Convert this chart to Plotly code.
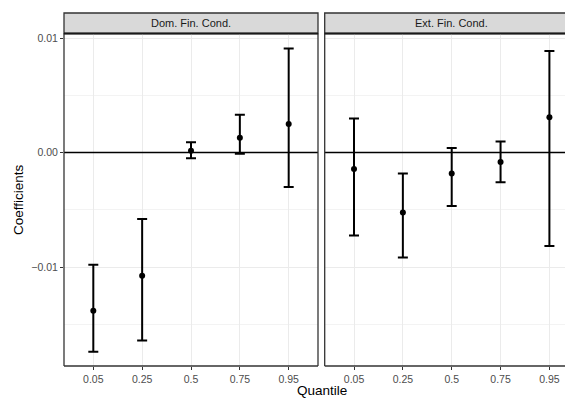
import plotly.graph_objects as go

quantiles = ["0.05", "0.25", "0.5", "0.75", "0.95"]
panels = ["Dom. Fin. Cond.", "Ext. Fin. Cond."]

dom_coef = [-0.0138, -0.01075, 0.00017, 0.0013, 0.0025]
dom_upper = [-0.0098, -0.0058, 0.0009, 0.0033, 0.0091]
dom_lower = [-0.01738, -0.0164, -0.0005, -0.0001, -0.0030]

ext_coef = [-0.00142, -0.00523, -0.00183, -0.00081, 0.00309]
ext_upper = [0.00297, -0.00183, 0.0004, 0.00096, 0.00887]
ext_lower = [-0.00724, -0.00915, -0.00467, -0.00258, -0.00816]

y_ticks = [-0.01, 0.0, 0.01]
y_tick_labels = ["\u22120.01", "0.00", "0.01"]
y_minor = [-0.015, -0.005, 0.005]

W, H = 565, 398
ml, mr, mt, mb = 64, 0, 13, 32
pw = W - ml - mr
ph = H - mt - mb
panel_top = 1 - (33.5 - mt) / ph
left_dom = [0, (318 - ml) / pw]
right_dom = [(324.7 - ml) / pw, 1]

xpos = list(range(1, len(quantiles) + 1))

fig = go.Figure()
series = [(dom_coef, dom_upper, dom_lower, "x", "y"),
          (ext_coef, ext_upper, ext_lower, "x2", "y2")]
for coef, up, lo, xa, ya in series:
    fig.add_trace(go.Scatter(
        x=xpos, y=coef, mode="markers", xaxis=xa, yaxis=ya,
        marker=dict(color="black", size=6),
        error_y=dict(type="data", symmetric=False,
                     array=[u - c for u, c in zip(up, coef)],
                     arrayminus=[c - l for c, l in zip(coef, lo)],
                     color="black", thickness=2, width=5),
        showlegend=False))

tick_font = dict(family="Liberation Sans, Arial", size=10.5, color="#4d4d4d")
yr = [-0.01863, 0.0104]
common_y = dict(range=yr, tickvals=y_ticks, ticktext=y_tick_labels,
                showgrid=True, gridcolor="#ebebeb", gridwidth=1.2,
                zeroline=False, showline=False,
                minor=dict(tickvals=y_minor, showgrid=True, gridcolor="#f3f3f3", gridwidth=0.7),
                domain=[0, panel_top], fixedrange=True)
common_x = dict(tickvals=xpos, ticktext=quantiles, showgrid=True, gridcolor="#ebebeb",
                gridwidth=1.3, zeroline=False, showline=False,
                ticks="outside", ticklen=3, tickcolor="#333333", tickwidth=1,
                tickfont=tick_font)

fig.update_layout(
    width=W, height=H, margin=dict(l=ml, r=mr, t=mt, b=mb),
    paper_bgcolor="white", plot_bgcolor="white",
    xaxis=dict(common_x, domain=left_dom, range=[0.4, 5.6], anchor="y"),
    xaxis2=dict(common_x, domain=right_dom, range=[0.4, 0.4 + (565 - 324.7) / 48.85], anchor="y2"),
    yaxis=dict(common_y, anchor="x", ticks="outside", ticklen=3, tickcolor="#333333",
               tickfont=tick_font),
    yaxis2=dict(common_y, anchor="x2", showticklabels=False, matches="y"),
)

# zero lines
for xa, ya in [("x", "y"), ("x2", "y2")]:
    fig.add_shape(type="line", xref=f"{xa} domain", yref=ya, x0=0, x1=1, y0=0, y1=0,
                  line=dict(color="black", width=1.5))

# panel borders and strips
for dom, closed in [(left_dom, True), (right_dom, False)]:
    x0, x1 = dom
    fig.add_shape(type="line", xref="paper", yref="paper", x0=x0, x1=x0, y0=0, y1=panel_top,
                  line=dict(color="#333333", width=1.3))
    fig.add_shape(type="line", xref="paper", yref="paper", x0=x0, x1=x1, y0=0, y1=0,
                  line=dict(color="#333333", width=1.3))
    if closed:
        fig.add_shape(type="line", xref="paper", yref="paper", x0=x1, x1=x1, y0=0, y1=panel_top,
                      line=dict(color="#333333", width=1.3))
    fig.add_shape(type="rect", xref="paper", yref="paper", x0=x0, x1=x1 + (0 if closed else 0.01),
                  y0=panel_top, y1=1, fillcolor="#d9d9d9", line=dict(color="#333333", width=1.3),
                  layer="below")
    fig.add_shape(type="line", xref="paper", yref="paper", x0=x0, x1=x1, y0=panel_top, y1=panel_top,
                  line=dict(color="#1a1a1a", width=2))

strip_font = dict(family="Liberation Sans, Arial", size=11, color="#1a1a1a")
fig.add_annotation(text=panels[0], xref="paper", yref="paper", x=sum(left_dom) / 2,
                   y=(panel_top + 1) / 2, xanchor="center", yanchor="middle",
                   showarrow=False, font=strip_font)
fig.add_annotation(text=panels[1], xref="paper", yref="paper",
                   x=right_dom[0] + 2.6 * 48.85 / pw,
                   y=(panel_top + 1) / 2, xanchor="center", yanchor="middle",
                   showarrow=False, font=strip_font)

# axis titles
title_font = dict(family="Liberation Sans, Arial", size=13.5, color="black")
fig.add_annotation(text="Quantile", xref="paper", yref="paper", x=(322 - ml) / pw, y=0,
                   yshift=-24, xanchor="center", yanchor="middle", showarrow=False,
                   font=title_font)
fig.add_annotation(text="Coefficients", xref="paper", yref="paper", x=0, xshift=-(ml - 18),
                   y=(H - 200 - mb) / ph, xanchor="center", yanchor="middle",
                   textangle=-90, showarrow=False, font=title_font)

fig.write_html("out.html")
